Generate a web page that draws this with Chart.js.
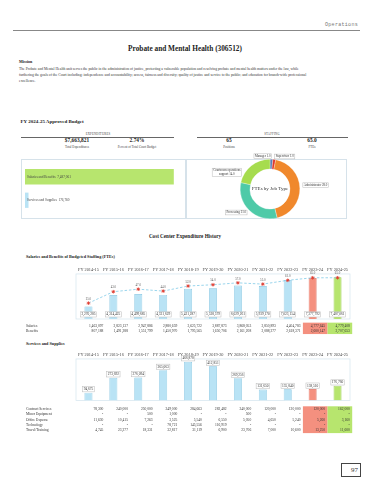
<!DOCTYPE html>
<html lang="en">
<head>
<meta charset="utf-8">
<title>Probate and Mental Health (306512)</title>
<script src="https://cdn.jsdelivr.net/npm/chart.js@4.4.1/dist/chart.umd.min.js"></script>
<style>
  html, body { margin: 0; padding: 0; background: #fff; }
  #page { position: relative; width: 370px; height: 480px; overflow: hidden;
          font-family: "Liberation Serif", "DejaVu Serif", serif; color: #222; }
  #page > * { position: absolute; margin: 0; white-space: nowrap; line-height: 1; }
  .ops { top: 22.5px; right: 12px; font: 5px "Liberation Mono", monospace; color: #777; letter-spacing: .3px; }
  .rule { left: 13px; top: 29.5px; width: 347px; height: 0; border-top: 0.8px solid #888; }
  .title { left: 0; width: 370px; top: 45.4px; text-align: center; font-weight: bold; font-size: 7.3px; }
  .bold { font-weight: bold; }
  .mission { left: 19px; top: 66px; font-size: 3.7px; line-height: 6px !important; color: #333; }
  .mid { transform: translateX(-50%); text-align: center; }
  .sect { top: 133px; font-size: 3px; color: #444; letter-spacing: .2px; }
  .hr { top: 137px; height: 0; border-top: 0.7px solid #666; }
  .kpi { top: 138.2px; font-size: 5.4px; font-weight: bold; }
  .cap { top: 145.5px; font-size: 3.2px; color: #444; }
  .panel { border: 0.6px solid #d6e2ea; box-sizing: border-box; }
  .pageno { left: 341px; top: 463px; width: 20px; height: 14px; box-sizing: border-box;
            border: 0.8px solid #444; font-size: 7px; text-align: right; padding: 3px 2px 0 0; color: #333; }
</style>
</head>
<body>
<div id="page">
  <div class="ops">Operations</div>
  <div class="rule"></div>
  <div class="title">Probate and Mental Health (306512)</div>

  <div class="bold" style="left:19px; top:60px; font-size:4px;">Mission</div>
  <div class="mission">The Probate and Mental Health unit serves the public in the administration of justice, protecting a vulnerable population and resolving probate and mental health matters under the law, while<br>furthering the goals of the Court including: independence and accountability; access, fairness and diversity; quality of justice and service to the public; and education for branch-wide professional<br>excellence.</div>

  <div class="bold" style="left:20.5px; top:118.6px; font-size:5px;">FY 2024-25 Approved Budget</div>

  <div class="sect mid" style="left:98px;">EXPENDITURES</div>
  <div class="hr" style="left:21px; width:153px;"></div>
  <div class="sect mid" style="left:272px;">STAFFING</div>
  <div class="hr" style="left:197px; width:151px;"></div>

  <div class="kpi mid" style="left:77px;">$7,663,821</div>
  <div class="cap mid" style="left:77px;">Total Expenditures</div>
  <div class="kpi mid" style="left:137px;">2.74%</div>
  <div class="cap mid" style="left:137px;">Percent of Total Court Budget</div>
  <div class="kpi mid" style="left:229px;">65</div>
  <div class="cap mid" style="left:229px;">Positions</div>
  <div class="kpi mid" style="left:312px;">65.0</div>
  <div class="cap mid" style="left:312px;">FTEs</div>

  <div class="panel" style="left:20.5px; top:159px; width:165px; height:60px;"></div>
  <div class="panel" style="left:186px; top:159px; width:161px; height:60px;"></div>
  <canvas id="budgetBars" width="165" height="60" style="left:20px; top:159px;"></canvas>
  <canvas id="ftePie" width="168" height="80" style="left:186px; top:150px;"></canvas>

  <div class="bold mid" style="left:185px; top:234.4px; font-size:5.1px;">Cost Center Expenditure History</div>
  <div class="bold" style="left:26px; top:254.5px; font-size:4.2px;">Salaries and Benefits of Budgeted Staffing (FTEs)</div>
  <canvas id="staffChart" width="370" height="82" style="left:0; top:258px;"></canvas>

  <div class="bold" style="left:26px; top:342px; font-size:4.2px;">Services and Supplies</div>
  <canvas id="supplyChart" width="370" height="95" style="left:0; top:343px;"></canvas>

  <div class="pageno">97</div>
</div>

<script>
// ---- data ----
const years = ['FY 2014-15', 'FY 2015-16', 'FY 2016-17', 'FY 2017-18', 'FY 2018-19', 'FY 2019-20',
               'FY 2020-21', 'FY 2021-22', 'FY 2022-23', 'FY 2023-24', 'FY 2024-25'];

const budgetCategories = ['Salaries and Benefits', 'Services and Supplies'];
const budgetValues = [7487061, 176760];

const jobTypes = ['Manager', 'Supervisor', 'Administrator', 'Processing', 'Courtroom operations support'];
const jobFtes = [1.0, 1.0, 28.0, 21.0, 14.0];

const salaries = [1463097, 2823137, 2947886, 2880659, 3625722, 3887873, 3868053, 3850893, 4404783, 4777645, 4779408];
const benefits = [807188, 1491288, 1551799, 1450970, 1795565, 1650706, 2161208, 2088277, 2618371, 2600147, 2707653];
const staffTotals = [2270285, 4314425, 4499685, 4331629, 5421287, 5538579, 6029261, 5939170, 7023154, 7377792, 7487061];
const budgetedFtes = [25.0, 43.0, 47.0, 44.0, 52.0, 54.0, 57.0, 55.0, 61.0, 65.0, 65.0];

const contractServices = [78300, 240000, 250000, 249000, 284663, 282482, 240000, 120000, 120000, 120000, 162000];
const minorEquipment = [null, null, 500, 1000, null, null, 500, null, null, null, null];
const officeExpense = [11630, 10415, 7263, 3525, 5540, 6550, 5050, 4650, 5240, 5260, 3160];
const technology = [null, null, null, 78721, 145556, 116919, null, null, null, null, null];
const travelTraining = [4745, 23277, 18331, 32817, 31119, 6900, 23706, 7000, 10600, 13250, 11600];
const supplyTotals = [94675, 273692, 276094, 365063, 466878, 412851, 269256, 131650, 135840, 138510, 176760];

// ---- look ----
const SERIF = '"Liberation Serif", "Times New Roman", serif';
const INK = '#333';
const BLUE = '#b9e3f5', BLUE_EDGE = '#7fc2e0';
const PRIOR = '#f4907f', PRIOR_EDGE = '#d9685a';
const CURRENT = '#b7e56e', CURRENT_EDGE = '#92c94a';
const JOB_COLORS = ['#5b7fb6', '#e0372a', '#f0882c', '#4ecaa8', '#a6dc4e'];

const fmt = v => v.toLocaleString('en-US');
const lastTwo = (base, prior, current) => years.map((_, i) =>
    i === years.length - 1 ? current : i === years.length - 2 ? prior : base);

// small white tag with a grey outline, align = 'left' | 'right' | 'center' (side of the anchor)
function tag(ctx, lines, x, y, align, size) {
    ctx.save();
    ctx.font = `${size}px ${SERIF}`;
    const w = Math.max(...lines.map(l => ctx.measureText(l).width)) + 2;
    const lh = size * 1.15;
    const h = lh * lines.length + 1.2;
    const left = align === 'left' ? x - w : align === 'right' ? x : x - w / 2;
    ctx.fillStyle = '#fff';
    ctx.fillRect(left, y - h / 2, w, h);
    ctx.strokeStyle = '#b9b9b9';
    ctx.lineWidth = 0.5;
    ctx.strokeRect(left, y - h / 2, w, h);
    ctx.fillStyle = INK;
    ctx.textAlign = 'center';
    ctx.textBaseline = 'middle';
    lines.forEach((l, i) => ctx.fillText(l, left + w / 2, y - h / 2 + 0.6 + lh * (i + 0.5)));
    ctx.restore();
}

// light frame round the plot area
const frame = {
    id: 'frame',
    beforeDatasetsDraw(chart) {
        const { ctx, chartArea: a } = chart;
        ctx.save();
        ctx.strokeStyle = '#d3e4ee';
        ctx.lineWidth = 0.7;
        ctx.strokeRect(a.left, a.top, a.right - a.left, a.bottom - a.top);
        ctx.restore();
    }
};

// figures table under a history chart
function drawTable(ctx, rows, firstY, step) {
    const colRight = i => 103.3 + i * 24.65;
    const top = firstY - step / 2 - 0.4;
    const height = step * rows.length + 0.8;
    ctx.save();
    ctx.fillStyle = PRIOR;
    ctx.fillRect(colRight(years.length - 2) + 2.4 - 24.65, top, 24.65, height);
    ctx.fillStyle = CURRENT;
    ctx.fillRect(colRight(years.length - 1) + 2.4 - 24.65, top, 24.65, height);
    ctx.font = `3.6px ${SERIF}`;
    ctx.textBaseline = 'middle';
    ctx.fillStyle = INK;
    rows.forEach(([label, values], r) => {
        const y = firstY + r * step;
        ctx.textAlign = 'left';
        ctx.fillText(label, 26, y);
        ctx.textAlign = 'right';
        values.forEach((v, i) => ctx.fillText(v == null ? '-' : fmt(v), colRight(i), y));
    });
    ctx.restore();
}

const quiet = { legend: { display: false }, tooltip: { enabled: false } };
const yearAxis = {
    position: 'top',
    grid: { display: false, drawTicks: false },
    border: { display: false },
    ticks: { color: '#444', font: { family: SERIF, size: 4.3 }, padding: 2, autoSkip: false, maxRotation: 0 }
};

// ---- budget split (horizontal bars) ----
new Chart(document.getElementById('budgetBars'), {
    type: 'bar',
    data: {
        labels: budgetCategories,
        datasets: [{
            data: budgetValues,
            backgroundColor: [CURRENT, BLUE],
            borderWidth: 0,
            barPercentage: 0.65,
            categoryPercentage: 1
        }]
    },
    options: {
        indexAxis: 'y',
        responsive: false,
        animation: false,
        layout: { padding: { left: 5, right: 1, top: 6, bottom: 7 } },
        scales: {
            x: { display: false, min: 0, max: 8000000 },
            y: { display: false }
        },
        plugins: quiet
    },
    plugins: [{
        id: 'barText',
        afterDatasetsDraw(chart) {
            const { ctx, chartArea } = chart;
            ctx.save();
            ctx.font = `3.4px ${SERIF}`;
            ctx.fillStyle = '#444';
            ctx.textBaseline = 'middle';
            chart.getDatasetMeta(0).data.forEach((bar, i) => {
                ctx.fillText(`${budgetCategories[i]}  ${fmt(budgetValues[i])}`, chartArea.left + 2, bar.y);
            });
            ctx.restore();
        }
    }]
});

// ---- FTEs by job type (doughnut) ----
new Chart(document.getElementById('ftePie'), {
    type: 'doughnut',
    data: {
        labels: jobTypes,
        datasets: [{
            data: jobFtes,
            backgroundColor: JOB_COLORS,
            borderColor: '#fff',
            borderWidth: 0.3,
            hoverOffset: 0
        }]
    },
    options: {
        responsive: false,
        animation: false,
        cutout: '67%',
        layout: { padding: { left: 54, right: 54, top: 9, bottom: 11 } },
        plugins: quiet
    },
    plugins: [{
        id: 'pieTags',
        afterDraw(chart) {
            const { ctx } = chart;
            const arcs = chart.getDatasetMeta(0).data;
            const nudge = [[0, 0], [0, 0], [0, -3], [0, 0], [-8, 9]];
            ctx.save();
            ctx.font = `bold 0px ${SERIF}`;
            arcs.forEach((arc, i) => {
                const mid = (arc.startAngle + arc.endAngle) / 2;
                const dx = Math.cos(mid), dy = Math.sin(mid);
                const x = arc.x + dx * (arc.outerRadius + 3) + nudge[i][0];
                const y = arc.y + dy * (arc.outerRadius + 3) + nudge[i][1];
                const text = `${jobTypes[i]} ${jobFtes[i].toFixed(1)}`;
                const lines = text.length > 22 ? ['Courtroom operations', `support ${jobFtes[i].toFixed(1)}`] : [text];
                tag(ctx, lines, x, y, dx < 0.05 ? 'left' : 'right', 3.1);
            });
            // centre caption
            const a = arcs[0];
            ctx.font = `5px ${SERIF}`;
            ctx.fillStyle = INK;
            ctx.textAlign = 'center';
            ctx.textBaseline = 'middle';
            ctx.fillText('FTEs by Job Type', a.x, a.y);
            ctx.restore();
        }
    }]
});

// ---- salaries and benefits with FTE line ----
new Chart(document.getElementById('staffChart'), {
    type: 'bar',
    data: {
        labels: years,
        datasets: [
            {
                type: 'line',
                data: budgetedFtes,
                yAxisID: 'y1',
                order: 0,
                borderColor: '#8fd0ea',
                borderWidth: 0.9,
                borderDash: [2.5, 1.8],
                tension: 0,
                pointStyle: 'star',
                pointRadius: 1.8,
                pointBorderWidth: 0.8,
                pointBorderColor: '#e2372b',
                pointBackgroundColor: '#e2372b'
            },
            {
                data: staffTotals,
                yAxisID: 'y',
                order: 1,
                backgroundColor: lastTwo(BLUE, PRIOR, CURRENT),
                borderColor: lastTwo(BLUE_EDGE, PRIOR_EDGE, CURRENT_EDGE),
                borderWidth: 0.7,
                barPercentage: 0.32,
                categoryPercentage: 1
            }
        ]
    },
    options: {
        responsive: false,
        animation: false,
        layout: { padding: { left: 76, right: 20, top: 6.8, bottom: 21 } },
        scales: {
            x: yearAxis,
            y: { display: false, min: 0, max: 8100000 },
            y1: { display: false, min: 0, max: 71 }
        },
        plugins: quiet
    },
    plugins: [frame, {
        id: 'staffText',
        afterDatasetsDraw(chart) {
            const { ctx, chartArea } = chart;
            // FTE values above the points
            ctx.save();
            ctx.font = `3.1px ${SERIF}`;
            ctx.fillStyle = '#555';
            ctx.textAlign = 'center';
            ctx.textBaseline = 'bottom';
            chart.getDatasetMeta(0).data.forEach((pt, i) => {
                ctx.fillText(budgetedFtes[i].toFixed(1), pt.x, pt.y - 2.6);
            });
            ctx.restore();
            // totals along the bottom of the bars
            chart.getDatasetMeta(1).data.forEach((bar, i) => {
                tag(ctx, [fmt(staffTotals[i])], bar.x, chartArea.bottom - 4.6, 'center', 3.5);
            });
        },
        afterDraw(chart) {
            drawTable(chart.ctx, [['Salaries', salaries], ['Benefits', benefits]], 325.7 - 258, 5.3);
        }
    }]
});

// ---- services and supplies ----
new Chart(document.getElementById('supplyChart'), {
    type: 'bar',
    data: {
        labels: years,
        datasets: [{
            data: supplyTotals,
            backgroundColor: lastTwo(BLUE, PRIOR, CURRENT),
            borderColor: lastTwo(BLUE_EDGE, PRIOR_EDGE, CURRENT_EDGE),
            borderWidth: 0.7,
            barPercentage: 0.32,
            categoryPercentage: 1
        }]
    },
    options: {
        responsive: false,
        animation: false,
        layout: { padding: { left: 76, right: 20, top: 6.8, bottom: 37.5 } },
        scales: {
            x: yearAxis,
            y: { display: false, min: 0, max: 500000 }
        },
        plugins: quiet
    },
    plugins: [frame, {
        id: 'supplyText',
        afterDatasetsDraw(chart) {
            chart.getDatasetMeta(0).data.forEach((bar, i) => {
                tag(chart.ctx, [fmt(supplyTotals[i])], bar.x, bar.y - 3.4, 'center', 3.5);
            });
        },
        afterDraw(chart) {
            drawTable(chart.ctx, [
                ['Contract Services', contractServices],
                ['Minor Equipment', minorEquipment],
                ['Office Expense', officeExpense],
                ['Technology', technology],
                ['Travel/Training', travelTraining]
            ], 409.3 - 343, 5.2);
        }
    }]
});
</script>
</body>
</html>
